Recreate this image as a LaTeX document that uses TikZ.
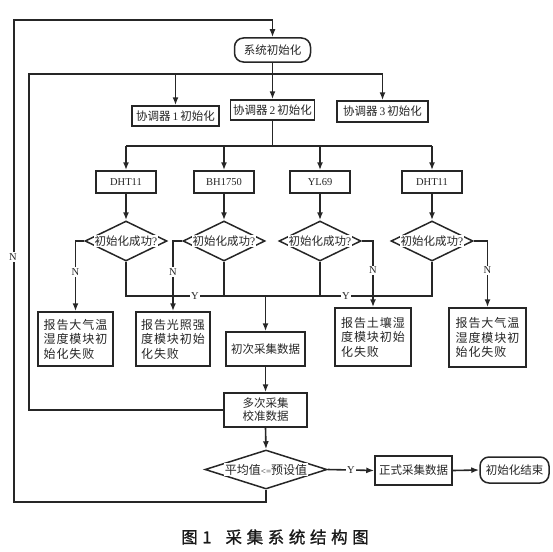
\documentclass[tikz,border=0pt]{standalone}
\usepackage{fontspec}
\setmainfont{Liberation Serif}
\newfontfamily\cjk{Noto Sans CJK SC}
\newfontfamily\cjkw[LetterSpace=8]{Noto Sans CJK SC}
\newfontfamily\capfont[LetterSpace=28,FakeBold=1.2]{Noto Sans CJK SC}
\usetikzlibrary{arrows.meta,shapes.geometric}
\tikzset{
  ln/.style={draw=black!85, line width=1.6pt},
  arr/.style={ln, -{Latex[length=8pt,width=6pt]}},
  box/.style={rectangle, draw=black!85, line width=1.5pt, fill=white, inner sep=1pt,
    font=\fontsize{11.5}{13}\selectfont, text=black!85},
  rbox/.style={box, rounded corners=9pt},
  sbox/.style={box, minimum width=60pt, minimum height=22pt, font=\fontsize{10.5}{12}\selectfont},
  fbox/.style={box, align=left, font=\fontsize{12}{14.5}\selectfont\cjkw},
  dia/.style={diamond, draw=black!85, line width=1.5pt, fill=white, inner sep=0pt,
    minimum width=82pt, minimum height=40pt},
  dtext/.style={fill=white, inner sep=1pt, text=black!85, font=\fontsize{11.5}{12}\selectfont},
  lab/.style={fill=white, inner sep=1.2pt, text=black!85, font=\fontsize{10.5}{12}\selectfont},
}
\begin{document}
\begin{tikzpicture}[x=1pt,y=-1pt]
\useasboundingbox (0,0) rectangle (553,551);
% helper coordinates
\coordinate (ol) at (14,20);
\coordinate (il) at (29,74);
\coordinate (hy) at (0,146);
\coordinate (yy) at (0,296);
\coordinate (ob) at (0,502);
% nodes
\node[rbox, minimum width=76pt, minimum height=24pt] (init) at (272.5,50) {\cjk 系统初始化};
\node[box, minimum width=87pt, minimum height=20pt] (c1) at (175.5,116) {{\cjk 协调器}\,1\,{\cjk 初始化}};
\node[box, minimum width=84pt, minimum height=20pt] (c2) at (272.5,110) {{\cjk 协调器}\,2\,{\cjk 初始化}};
\node[box, minimum width=91pt, minimum height=21pt] (c3) at (382.5,111.5) {{\cjk 协调器}\,3\,{\cjk 初始化}};
\node[sbox] (s1) at (126,182) {DHT11};
\node[sbox] (s2) at (224,182) {BH1750};
\node[sbox] (s3) at (320,182) {YL69};
\node[sbox] (s4) at (432,182) {DHT11};
\node[dia] (d1) at (126,241) {};
\node[dia] (d2) at (224,241) {};
\node[dia] (d3) at (320,241) {};
\node[dia] (d4) at (432,241) {};
\node[dtext] (t1) at (d1) {{\cjk 初始化成功}?};
\node[dtext] (t2) at (d2) {{\cjk 初始化成功}?};
\node[dtext] (t3) at (d3) {{\cjk 初始化成功}?};
\node[dtext] (t4) at (d4) {{\cjk 初始化成功}?};
\node[fbox, minimum width=75pt, minimum height=54pt] (f1) at (75.5,339) {报告大气温\\湿度模块初\\始化失败};
\node[fbox, minimum width=74pt, minimum height=54pt] (f2) at (173,339) {报告光照强\\度模块初始\\化失败};
\node[fbox, minimum width=76pt, minimum height=58pt] (f3) at (373,337) {报告土壤湿\\度模块初始\\化失败};
\node[fbox, minimum width=77pt, minimum height=59pt] (f4) at (487.5,337.5) {报告大气温\\湿度模块初\\始化失败};
\node[box, minimum width=79pt, minimum height=34pt] (first) at (265.5,349) {\cjk 初次采集数据};
\node[box, minimum width=83pt, minimum height=34pt, align=center, font=\fontsize{11.5}{13}\selectfont\cjk] (multi) at (265.5,410) {多次采集\\校准数据};
\node[dia, minimum width=122pt, minimum height=39pt] (d5) at (266,469.5) {};
\node[dtext, font=\fontsize{12}{12}\selectfont] (t5) at (d5) {{\cjk 平均值}{\small<=}{\cjk 预设值}};
\node[box, minimum width=77pt, minimum height=29pt] (formal) at (413.5,470.5) {\cjk 正式采集数据};
\node[rbox, minimum width=69pt, minimum height=26pt] (endn) at (514.5,470) {\cjk 初始化结束};
% top distribution
\draw[ln] (init.south) -- (init.south |- il);
\draw[arr] (init.south |- il) -- (c2.north);
\draw[ln] (multi.west) -| (il) -- (c3.north |- il);
\draw[arr] (c1.north |- il) -- (c1.north);
\draw[arr] (c3.north |- il) -- (c3.north);
% sensors
\draw[ln] (c2.south) -- (c2.south |- hy);
\draw[ln] (s1.north |- hy) -- (s4.north |- hy);
\draw[arr] (s1.north |- hy) -- (s1.north);
\draw[arr] (s2.north |- hy) -- (s2.north);
\draw[arr] (s3.north |- hy) -- (s3.north);
\draw[arr] (s4.north |- hy) -- (s4.north);
\draw[arr] (s1.south) -- (d1.north);
\draw[arr] (s2.south) -- (d2.north);
\draw[arr] (s3.south) -- (d3.north);
\draw[arr] (s4.south) -- (d4.north);
% N branches
\draw[arr] (d1.west) -| (f1.north) node[lab, pos=0.72] (n1) {N};
\draw[arr] (d2.west) -| (f2.north) node[lab, pos=0.72] (n2) {N};
\draw[arr] (d3.east) -| (f3.north) node[lab, pos=0.72] (n3) {N};
\draw[arr] (d4.east) -| (f4.north) node[lab, pos=0.72] (n4) {N};
% Y branches
\draw[ln] (d1.south) -- (d1.south |- yy) -- (d4.south |- yy) -- (d4.south);
\draw[ln] (d2.south) -- (d2.south |- yy);
\draw[ln] (d3.south) -- (d3.south |- yy);
\node[lab] (y1) at (195,296) {Y};
\node[lab] (y2) at (346,296) {Y};
\draw[arr] (first.north |- yy) -- (first.north);
\draw[arr] (first.south) -- (multi.north);
\draw[arr] (multi.south) -- (d5.north);
% final
\draw[arr] (d5.east) -- (formal.west) node[lab, midway] (y3) {Y};
\draw[arr] (formal.east) -- (endn.west);
\draw[arr] (d5.south) -- (d5.south |- ob) -| (ol) -- (init.north |- ol) -- (init.north);
\node[lab] (n5) at (13,257) {N};
% caption
\node[font=\fontsize{16.5}{18}\selectfont\capfont, text=black!90] (cap) at (275,537) {图1\hspace{14pt}采集系统结构图};
\end{tikzpicture}
\end{document}
